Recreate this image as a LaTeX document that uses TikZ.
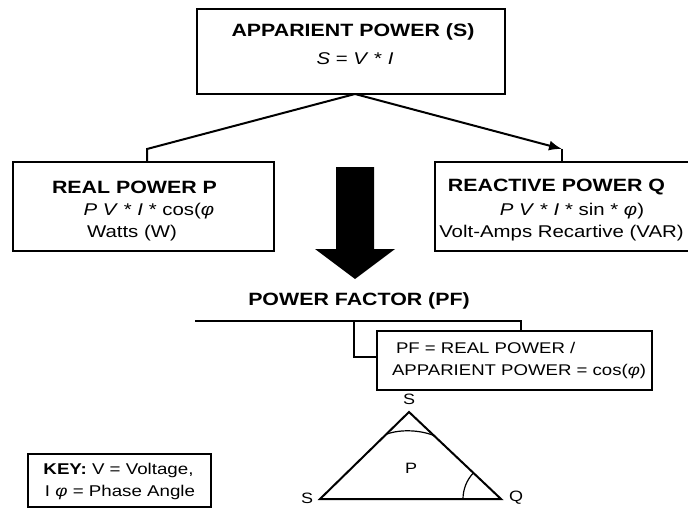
\documentclass[tikz,border=0pt]{standalone}
\usepackage{fontspec}
\usetikzlibrary{arrows.meta}
\newfontfamily\diagfont{Liberation Sans}[FakeStretch=1.2]

\begin{document}
\begin{tikzpicture}[x=1pt, y=-1pt, font=\diagfont, line width=2pt]
  % the page is the reference's 688 x 508, one unit per pixel, y downwards
  \useasboundingbox (0,0) rectangle (688,508);
  \tikzset{
    pbox/.style={draw, inner sep=0pt},
    headlab/.style={font=\diagfont\fontsize{17.8}{20}\selectfont\bfseries},
    bodylab/.style={font=\diagfont\fontsize{17}{20}\selectfont},
    pflab/.style={anchor=west, inner sep=0pt, font=\diagfont\fontsize{15.5}{18}\selectfont},
    keylab/.style={font=\diagfont\fontsize{15.6}{18}\selectfont},
    vertlab/.style={font=\diagfont\fontsize{15}{17}\selectfont}}

  % ========== the apparent power, on top ===================================
  \node[pbox, minimum width=308pt, minimum height=85pt] (apparent) at (351,51.5) {};
  \node[headlab] (apptitle) at (353,31.5) {APPARIENT POWER (S)};
  \node[bodylab] (appform)  at (355,58.5) {\textit{S} = \textit{V} * \textit{I}};

  % ========== real and reactive power ======================================
  \node[pbox, minimum width=261pt, minimum height=89pt] (real) at (143.5,206.5) {};
  \node[headlab] (realtitle) at (134.5,187.5) {REAL POWER P};
  \node[bodylab] (realform)  at (149,211)   {\textit{P V} * \textit{I} * cos(\textit{φ}};
  \node[bodylab] (realunit)  at (132,233.5) {Watts (W)};

  % right edge lies past the page, as in the reference
  \node[pbox, minimum width=256pt, minimum height=89pt] (reactive) at (563,206.5) {};
  \node[headlab] (reacttitle) at (556.5,187.5) {REACTIVE POWER Q};
  \node[bodylab] (reactform)  at (572,211)     {\textit{P V} * \textit{I} * sin * \textit{φ})};
  \node[bodylab] (reactunit)  at (561.5,233.5) {Volt-Amps Recartive (VAR)};

  % the split from the top box
  \coordinate (apex)  at (355,94);
  \coordinate (lbend) at (147,149);
  \coordinate (rbend) at (562,149);
  \draw (apex) -- (lbend) -- (lbend |- real.north);
  \draw[-{Latex[length=13pt, width=10pt]}] (apex) -- (rbend);
  \draw (rbend) -- (rbend |- reactive.north);

  % the big down arrow
  \fill (336,167) -- (374,167) -- (374,249) -- (395,249) -- (355,279)
        -- (315,249) -- (336,249) -- cycle;

  % ========== power factor =================================================
  \node[headlab] (pftitle) at (359,301) {POWER FACTOR (PF)};
  \node[pbox, minimum width=275pt, minimum height=59pt] (pfbox) at (514.5,360.5) {};
  \node[pflab] (pfline1) at (395,348) {PF = REAL POWER /};
  \node[pflab] (pfline2) at (391,371) {APPARIENT POWER = cos(\textit{φ})};

  \coordinate (pfleft)  at (195,321);
  \coordinate (pfright) at (521,321);
  \coordinate (pfmid)   at (354,321);
  \draw (pfleft) -- (pfright) -- (pfright |- pfbox.north);
  \draw (pfmid) |- ([yshift=3.5pt]pfbox.west);

  % ========== the power triangle ===========================================
  \coordinate (stop)   at (409,412);
  \coordinate (sleft)  at (320,499);
  \coordinate (qright) at (501,499);
  \draw[line join=miter] (stop) -- (sleft) -- (qright) -- cycle;
  \draw[line width=1.2pt] (387,434) .. controls (401,429) and (421,430) .. (435,436);
  \draw[line width=1.2pt] (463,499) arc[start angle=180, end angle=223.4, radius=38];
  \node[vertlab] (stoplab)  at (409,399) {S};
  \node[vertlab] (sleftlab) at (307,498) {S};
  \node[vertlab] (qlab)     at (516,498) {Q};
  \node[vertlab] (plab)     at (411,468) {P};

  % ========== the key ======================================================
  \node[pbox, minimum width=183pt, minimum height=53pt] (key) at (119.5,480.5) {};
  \node[keylab] (keyline1) at (118.5,470) {\textbf{KEY:} V = Voltage,};
  \node[keylab] (keyline2) at (120,492)   {I \textit{φ} = Phase Angle};
\end{tikzpicture}
\end{document}
